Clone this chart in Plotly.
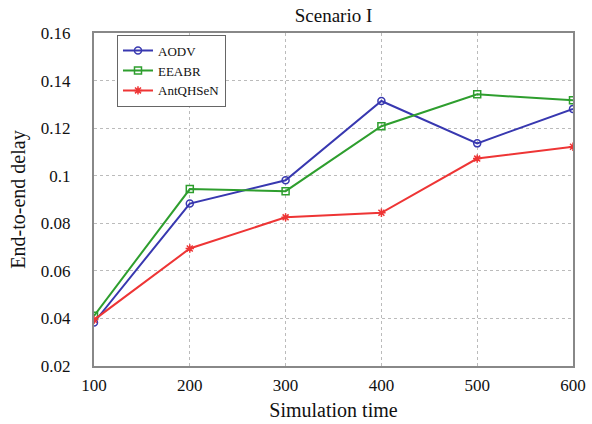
import plotly.graph_objects as go

sim_time = [100, 200, 300, 400, 500, 600]
aodv = [0.0383, 0.0883, 0.0981, 0.1314, 0.1136, 0.1281]
eeabr = [0.0411, 0.0944, 0.0935, 0.1208, 0.1342, 0.1317]
antqhsen = [0.0394, 0.0694, 0.0825, 0.0844, 0.1072, 0.1122]

x_ticks = [100, 200, 300, 400, 500, 600]
y_ticks = [0.02, 0.04, 0.06, 0.08, 0.1, 0.12, 0.14, 0.16]
y_labels = ["0.02", "0.04", "0.06", "0.08", "0.1", "0.12", "0.14", "0.16"]

series = [
    ("AODV", aodv, "#3838b0", "circle-open"),
    ("EEABR", eeabr, "#2e9e2e", "square-open"),
    ("AntQHSeN", antqhsen, "#ee3535", "asterisk-open"),
]

fig = go.Figure()
for name, vals, color, sym in series:
    fig.add_trace(go.Scatter(
        x=sim_time, y=vals, name=name, mode="lines+markers",
        line=dict(color=color, width=2),
        marker=dict(symbol=sym, size=7, color=color, line=dict(color=color, width=1.5)),
    ))

font_family = "Liberation Serif"
fig.update_layout(
    width=592, height=424,
    margin=dict(l=94, r=19, t=33, b=58, autoexpand=False),
    paper_bgcolor="white", plot_bgcolor="white",
    font=dict(family=font_family, size=17, color="#111"),
    title=dict(text="Scenario I", x=0.5, xanchor="center", y=1 - 15 / 424, yanchor="middle",
               xref="paper", font=dict(size=19, family=font_family)),
    showlegend=True,
    legend=dict(x=0.048, y=0.995, xanchor="left", yanchor="top",
                bgcolor="white", bordercolor="#666", borderwidth=1,
                font=dict(size=13, family=font_family), tracegroupgap=0,
                itemwidth=30),
)
fig.update_xaxes(
    range=[100, 600], tickvals=x_ticks, ticktext=[str(v) for v in x_ticks],
    showgrid=True, gridcolor="#bbb", griddash="dot", gridwidth=1,
    showline=True, linecolor="#888", linewidth=2, mirror=True,
    ticks="", zeroline=False, ticklabelstandoff=3, automargin=False,
    title=dict(text="Simulation time", font=dict(size=20, family=font_family), standoff=9),
    tickfont=dict(size=17, family=font_family, color="#111"),
)
fig.update_yaxes(
    range=[0.02, 0.16], tickvals=y_ticks, ticktext=y_labels,
    showgrid=True, gridcolor="#bbb", griddash="dot", gridwidth=1,
    showline=True, linecolor="#888", linewidth=2, mirror=True,
    ticks="", zeroline=False, ticklabelstandoff=18, automargin=False,
    title=dict(text="End-to-end delay", font=dict(size=20, family=font_family), standoff=10),
    tickfont=dict(size=17, family=font_family, color="#111"),
)
fig.write_html("out.html", config={"displayModeBar": False},
               post_script="document.body.style.margin='0';")
